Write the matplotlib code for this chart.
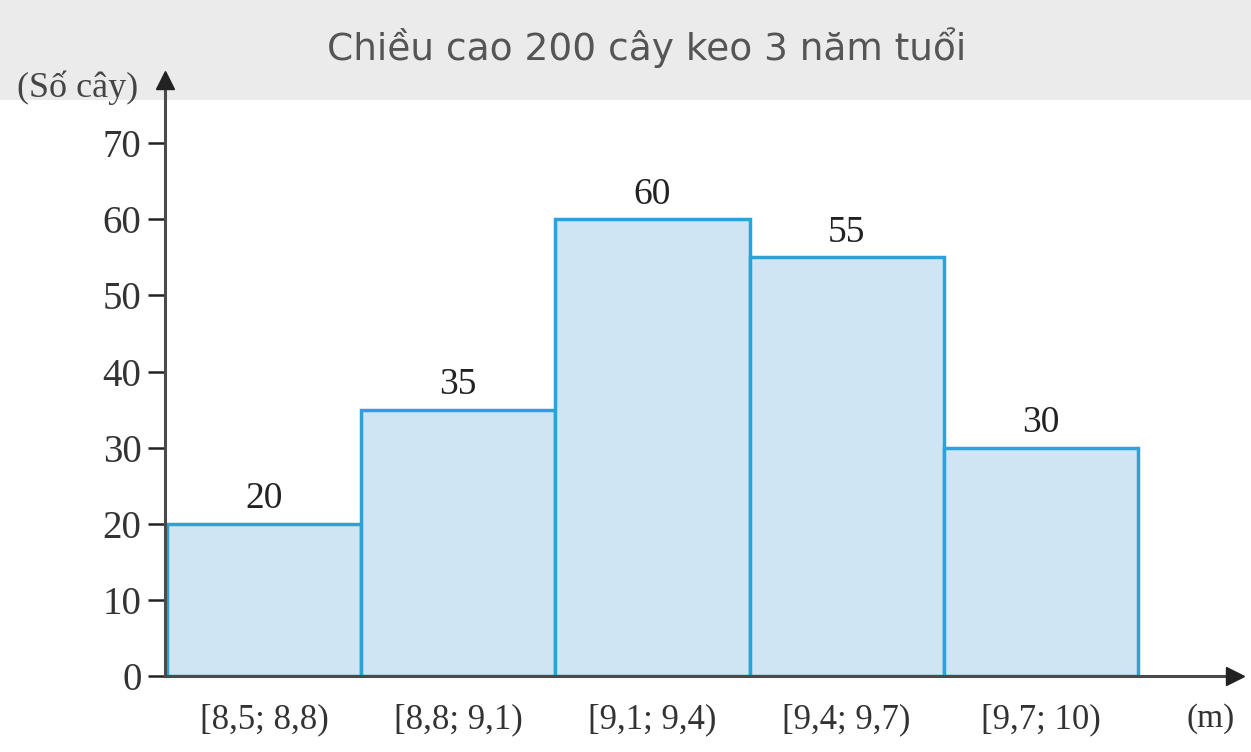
import matplotlib.pyplot as plt
from matplotlib.patches import Rectangle

# data
classes = ['[8,5; 8,8)', '[8,8; 9,1)', '[9,1; 9,4)', '[9,4; 9,7)', '[9,7; 10)']
counts = [20, 35, 60, 55, 30]
yticks = [0, 10, 20, 30, 40, 50, 60, 70]
title = 'Chiều cao 200 cây keo 3 năm tuổi'

serif = ['Liberation Serif', 'DejaVu Serif']
axis_col = '#4a4a4a'

fig = plt.figure(figsize=(12.51, 7.52), dpi=100)
fig.patch.set_facecolor('white')

# grey banner at top
fig.patches.append(Rectangle((0, 1 - 100 / 752), 1, 100 / 752,
                             transform=fig.transFigure, facecolor='#ebebeb',
                             edgecolor='none', zorder=0))
fig.text(0.517, 1 - 48 / 752, title, ha='center', va='center',
         fontsize=27, color='#555555', zorder=2)

ax = fig.add_axes([165 / 1251, 76 / 752, 1070 / 1251, 596 / 752])
ax.set_zorder(3)
ax.patch.set_alpha(0)

x = list(range(len(classes)))
ax.bar(x, counts, width=1.0, color='#cfe5f3', edgecolor='#2ba3d9',
       linewidth=2.5, zorder=2)
for xi, c in zip(x, counts):
    ax.text(xi, c + 1.0, str(c), ha='center', va='bottom',
            fontsize=27, family=serif, color='#222222')

ax.set_xlim(-0.51, 5.0)
ax.set_ylim(0, 78.3)

for s in ['top', 'right']:
    ax.spines[s].set_visible(False)
for s in ['left', 'bottom']:
    ax.spines[s].set_color(axis_col)
    ax.spines[s].set_linewidth(2.2)
    ax.spines[s].set_zorder(3)

# arrow heads
ax.plot(1, 0, '>', color='#222222', markersize=13,
        transform=ax.get_yaxis_transform(), clip_on=False, zorder=4)
ax.plot(-0.51, 1, '^', color='#222222', markersize=13,
        transform=ax.get_xaxis_transform(), clip_on=False, zorder=4)

ax.set_yticks(yticks)
ax.set_yticklabels([str(v) for v in yticks], family=serif, fontsize=28,
                   color='#333333')
ax.tick_params(axis='y', length=12, width=1.8, color='#222222', pad=5)
ax.set_xticks(x)
ax.set_xticklabels(classes, family=serif, fontsize=25, color='#333333')
ax.tick_params(axis='x', length=0, pad=20)

fig.text(1211 / 1251, 1 - 719 / 752, '(m)', ha='center', va='center',
         family=serif, fontsize=24, color='#333333')
fig.text(78 / 1251, 1 - 88 / 752, '(Số cây)', ha='center', va='center',
         family=serif, fontsize=26, color='#444444')

fig.savefig('out.png', dpi=100)
